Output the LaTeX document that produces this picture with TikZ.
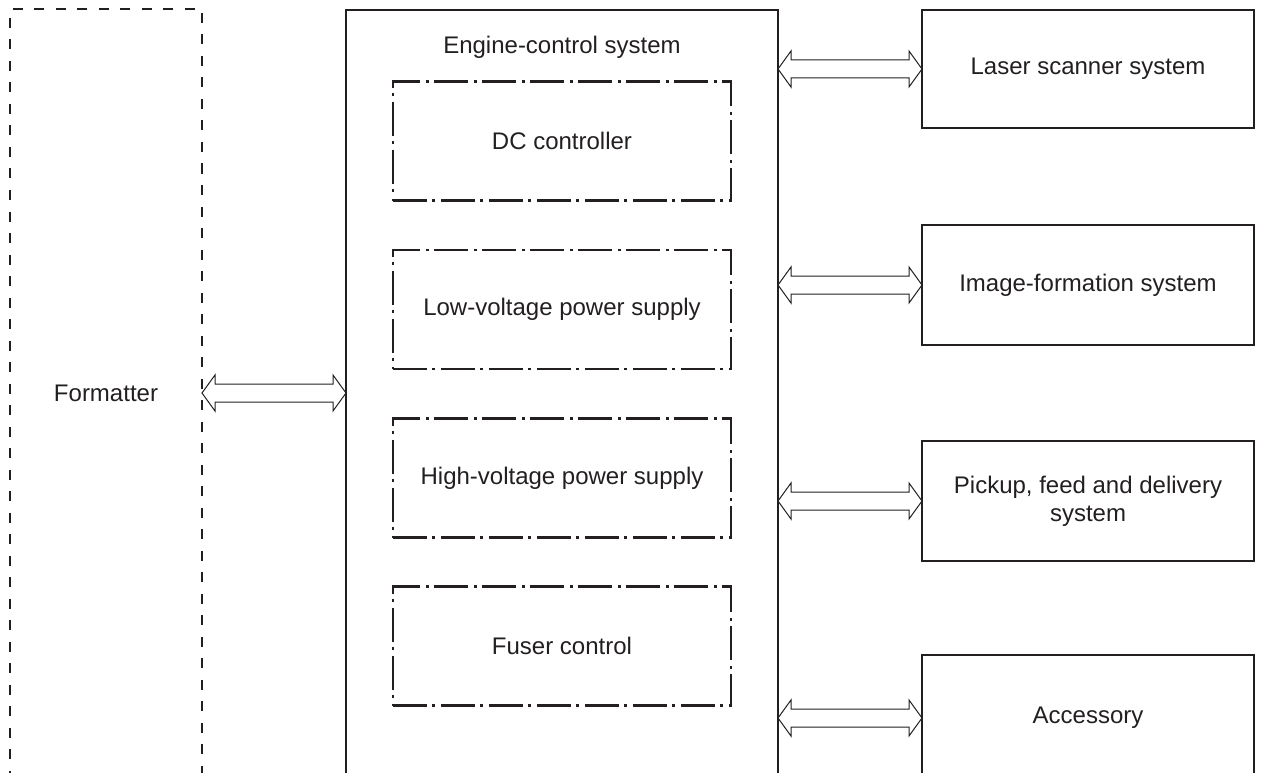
\documentclass[tikz,border=0pt]{standalone}
\usepackage{fontspec}
\setmainfont{Liberation Sans}
\usetikzlibrary{calc}
\definecolor{ink}{HTML}{231F20}
\begin{document}
\begin{tikzpicture}[x=1pt,y=-1pt,
  every node/.style={font=\fontsize{24}{28}\selectfont, text=ink, inner sep=0pt, outer sep=0pt},
  solidbox/.style={draw=ink, line width=2.4pt, minimum width=332pt, align=center},
  fmtbox/.style={draw=ink, line width=2.5pt, dash pattern=on 10pt off 11.5pt},
  subbox/.style={draw=ink, line width=2.5pt, dash pattern=on 34pt off 5pt on 3pt off 6pt, minimum width=338pt, minimum height=119pt},
  dblarr/.style={draw=ink, line width=1pt, fill=white}]
\useasboundingbox (0,0) rectangle (1264,773);

\node[fmtbox, minimum width=192pt, minimum height=768pt] (fmt) at (106,393) {Formatter};
\node[draw=ink, line width=2.4pt, minimum width=432pt, minimum height=800pt] (eng) at (562,410) {};
\node (engt) at (562,47) {Engine-control system};

\node[subbox] (dc) at (562,141) {DC controller};
\node[subbox] (lv) at (562,309.5) {Low-voltage power supply};
\node[subbox] (hv) at (562,478) {High-voltage power supply};
\node[subbox] (fu) at (562,646) {Fuser control};

\node[solidbox, minimum height=118pt] (las) at (1088,69) {Laser scanner system};
\node[solidbox, minimum height=120pt] (img) at (1088,285) {Image-formation system};
\node[solidbox, minimum height=120pt] (pick) at (1088,501) {Pickup, feed and delivery\\system};
\node[solidbox, minimum height=126pt] (acc) at (1088,718) {Accessory};

\newcommand\dblarrow[2]{%
  \draw[dblarr] let \p1=(#1), \p2=(#2) in
    (\x1,\y1) -- (\x1+13pt,\y1+18pt) -- (\x1+13pt,\y1+9pt) -- (\x2-13pt,\y1+9pt)
    -- (\x2-13pt,\y1+18pt) -- (\x2,\y1) -- (\x2-13pt,\y1-18pt) -- (\x2-13pt,\y1-9pt)
    -- (\x1+13pt,\y1-9pt) -- (\x1+13pt,\y1-18pt) -- cycle;}

\coordinate (a0) at (eng.west |- fmt.east);
\dblarrow{fmt.east}{a0}
\coordinate (a1) at (eng.east |- las.west);
\dblarrow{a1}{las.west}
\coordinate (a2) at (eng.east |- img.west);
\dblarrow{a2}{img.west}
\coordinate (a3) at (eng.east |- pick.west);
\dblarrow{a3}{pick.west}
\coordinate (a4) at (eng.east |- acc.west);
\dblarrow{a4}{acc.west}
\end{tikzpicture}
\end{document}
